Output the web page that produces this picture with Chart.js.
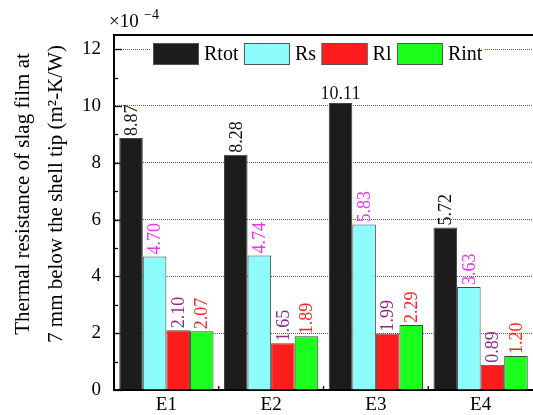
<!DOCTYPE html>
<html>
<head>
<meta charset="utf-8">
<script src="https://cdn.jsdelivr.net/npm/chart.js@4/dist/chart.umd.min.js"></script>
<style>
  html, body { margin: 0; padding: 0; background: #fff; }
  #wrap { width: 533px; height: 415px; }
</style>
</head>
<body>
<div id="wrap"><canvas id="chart" width="533" height="415"></canvas></div>
<script>
// data (units: 1e-4 m2-K/W)
const categories = ['E1', 'E2', 'E3', 'E4'];
const seriesNames = ['Rtot', 'Rs', 'Rl', 'Rint'];
const rtot = [8.87, 8.28, 10.11, 5.72];
const rs = [4.70, 4.74, 5.83, 3.63];
const rl = [2.10, 1.65, 1.99, 0.89];
const rint = [2.07, 1.89, 2.29, 1.20];
const yTickValues = [0, 1, 2, 3, 4, 5, 6, 7, 8, 9, 10, 11, 12];
const yLabelValues = [0, 2, 4, 6, 8, 10, 12];

const barColors = ['#1c1c1c', '#8cfcfc', '#ff1c1c', '#1cff1c'];
const labelColors = ['#111111', '#f030f0', '#8e2a8e', '#ff2222'];
const serif = "'Liberation Serif', 'Times New Roman', serif";

// legend box inside the plot, drawn on top of the grid
const legendBox = { x: 153, y: 43, w: 46, h: 22 };

const extras = {
  id: 'extras',
  beforeDatasetsDraw(chart) {
    const ctx = chart.ctx;
    const a = chart.chartArea;
    const y = chart.scales.y;
    const x = chart.scales.x;
    ctx.save();
    ctx.strokeStyle = '#000';
    ctx.lineWidth = 1.3;
    // inward ticks on y
    y.ticks.forEach(t => {
      const py = Math.round(y.getPixelForValue(t.value)) + 0.5;
      const len = yLabelValues.includes(t.value) ? 8 : 4;
      ctx.beginPath();
      ctx.moveTo(a.left, py);
      ctx.lineTo(a.left + len, py);
      ctx.stroke();
    });
    // small ticks between categories
    for (let i = 0; i < categories.length - 1; i++) {
      const px = (x.getPixelForValue(i) + x.getPixelForValue(i + 1)) / 2;
      ctx.beginPath();
      ctx.moveTo(px, a.bottom);
      ctx.lineTo(px, a.bottom - 4);
      ctx.stroke();
    }
    ctx.restore();
  },
  afterDraw(chart) {
    const ctx = chart.ctx;
    const a = chart.chartArea;
    ctx.save();
    // top frame
    ctx.strokeStyle = '#000';
    ctx.lineWidth = 2;
    ctx.beginPath();
    ctx.moveTo(a.left - 1, a.top);
    ctx.lineTo(chart.width, a.top);
    ctx.stroke();

    // legend
    ctx.font = '20px ' + serif;
    ctx.textBaseline = 'middle';
    let lx = legendBox.x;
    const items = chart.data.datasets.map(ds => {
      const tw = ctx.measureText(ds.label).width;
      const it = { ds, x: lx, tw };
      lx += legendBox.w + 5 + tw + 5.5;
      return it;
    });
    ctx.fillStyle = '#fff';
    ctx.fillRect(legendBox.x - 3, legendBox.y - 4, lx - legendBox.x, legendBox.h + 8);
    items.forEach(it => {
      ctx.fillStyle = it.ds.backgroundColor;
      ctx.fillRect(it.x, legendBox.y, legendBox.w, legendBox.h);
      ctx.strokeStyle = '#555';
      ctx.lineWidth = 1;
      ctx.strokeRect(it.x + 0.5, legendBox.y + 0.5, legendBox.w - 1, legendBox.h - 1);
      ctx.fillStyle = '#000';
      ctx.fillText(it.ds.label, it.x + legendBox.w + 5, legendBox.y + legendBox.h / 2 + 1);
    });

    // value labels above bars
    ctx.font = '18px ' + serif;
    chart.data.datasets.forEach((ds, di) => {
      const meta = chart.getDatasetMeta(di);
      meta.data.forEach((bar, i) => {
        const txt = ds.data[i].toFixed(2);
        const tw = ctx.measureText(txt).width;
        ctx.fillStyle = labelColors[di];
        if (bar.y - 3 - tw < legendBox.y + legendBox.h + 6) {
          ctx.textAlign = 'center';
          ctx.textBaseline = 'alphabetic';
          ctx.fillText(txt, bar.x, bar.y - 4);
        } else {
          ctx.save();
          ctx.translate(bar.x, bar.y - 2);
          ctx.rotate(-Math.PI / 2);
          ctx.textAlign = 'left';
          ctx.textBaseline = 'middle';
          ctx.fillText(txt, 0, 1);
          ctx.restore();
        }
      });
    });

    // axis multiplier
    ctx.fillStyle = '#000';
    ctx.textAlign = 'left';
    ctx.textBaseline = 'alphabetic';
    ctx.font = '19px ' + serif;
    ctx.fillText('\u00d710', 109, 27);
    ctx.font = '14px ' + serif;
    ctx.fillText('\u22124', 144, 19);

    // y axis title, two lines
    ctx.font = '21px ' + serif;
    ctx.textAlign = 'center';
    ctx.textBaseline = 'middle';
    ctx.translate(0, 194);
    ctx.rotate(-Math.PI / 2);
    ctx.fillText('Thermal resistance of slag film at', 0, 23);
    ctx.fillText('7 mm below the shell tip (m\u00b2-K/W)', 0, 56);
    ctx.restore();
  }
};

const ctx = document.getElementById('chart').getContext('2d');
const myChart = new Chart(ctx, {
  type: 'bar',
  data: {
    labels: categories,
    datasets: [rtot, rs, rl, rint].map((d, i) => ({
      label: seriesNames[i],
      data: d,
      backgroundColor: barColors[i],
      borderColor: '#444',
      borderWidth: 1,
      categoryPercentage: 0.9,
      barPercentage: 1.0
    }))
  },
  options: {
    responsive: false,
    animation: false,
    layout: { padding: { top: 35, right: 0, bottom: 0, left: 0 } },
    plugins: {
      legend: { display: false },
      tooltip: { enabled: false }
    },
    scales: {
      x: {
        grid: { display: false, drawTicks: false },
        border: { color: '#000', width: 2 },
        ticks: { color: '#000', font: { family: serif, size: 19 }, padding: 4 },
        afterFit: s => { s.height = 25; }
      },
      y: {
        min: 0,
        max: 12.5,
        afterBuildTicks: s => { s.ticks = yTickValues.map(v => ({ value: v })); },
        grid: {
          drawTicks: false,
          color: c => (yLabelValues.includes(c.tick.value) && c.tick.value > 0) ? '#4a4aff' : 'rgba(0,0,0,0)',
          lineWidth: 1
        },
        border: { color: '#000', width: 2, dash: [1, 1] },
        ticks: {
          color: '#000',
          padding: 13,
          font: { family: serif, size: 19 },
          callback: v => yLabelValues.includes(v) ? String(v) : ''
        },
        afterFit: s => { s.width = 114; }
      }
    }
  },
  plugins: [extras]
});
</script>
</body>
</html>
